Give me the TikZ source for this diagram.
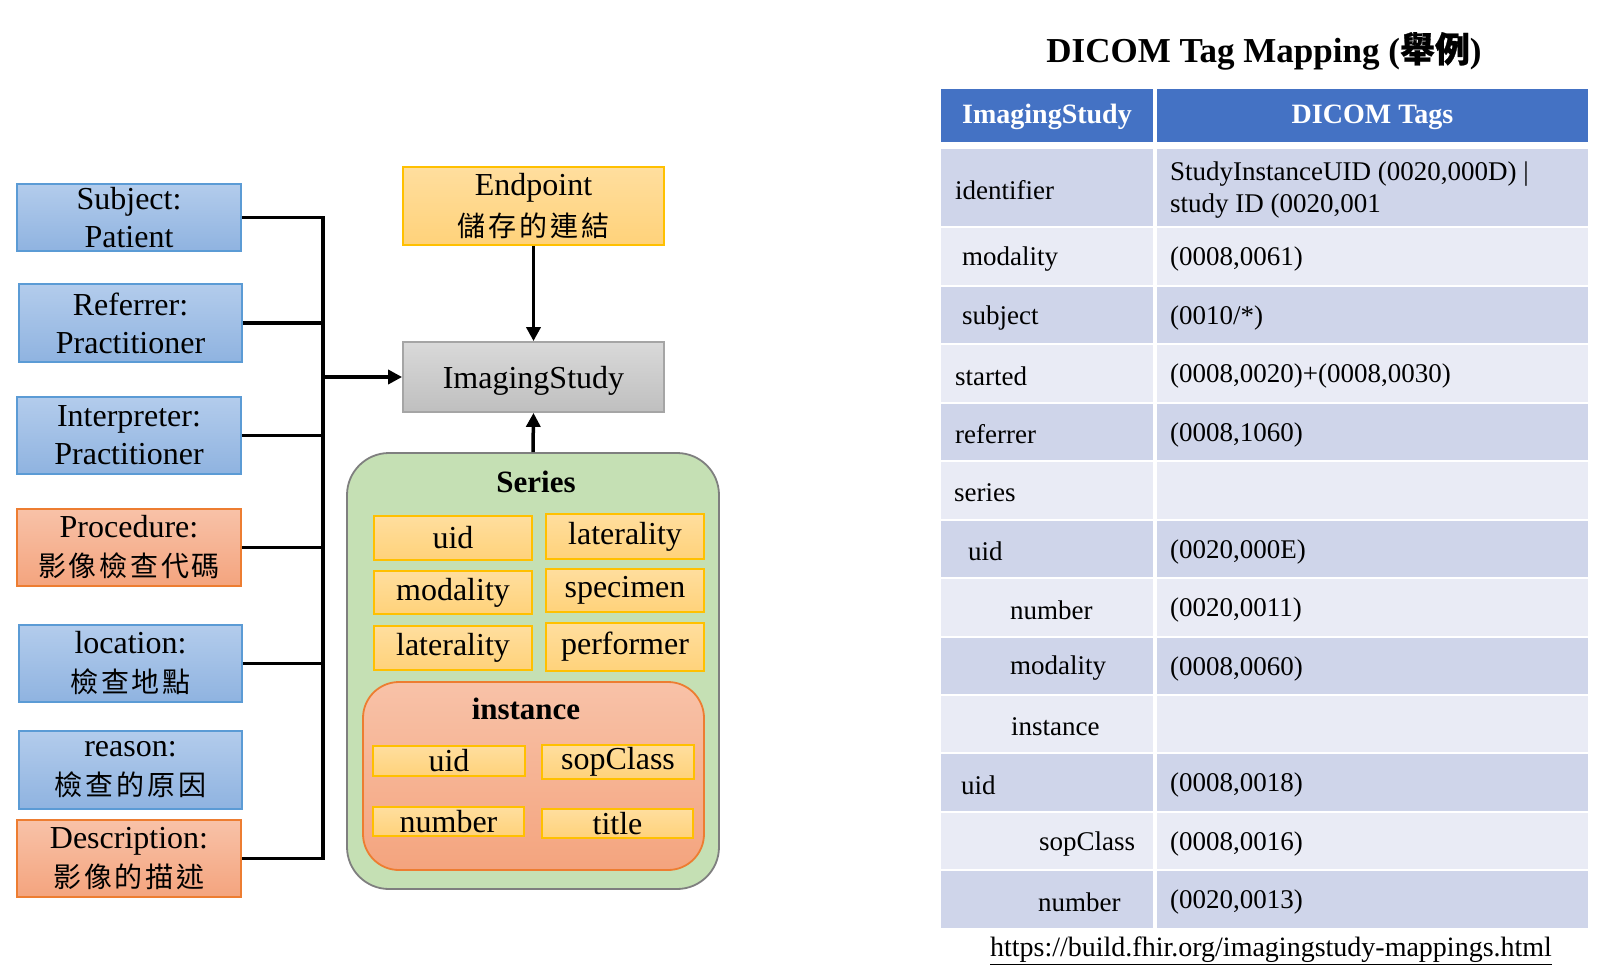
\documentclass[tikz,border=0pt]{standalone}
\usepackage{fontspec}
\setmainfont{Liberation Serif}
\newfontfamily\cjk[LetterSpace=10]{Noto Sans CJK TC}
\newfontfamily\cjkb[FakeBold=0.8]{Noto Sans CJK TC}
\usetikzlibrary{arrows.meta}
\definecolor{bluetop}{HTML}{B3CCEC}
\definecolor{bluebot}{HTML}{8FB3E0}
\definecolor{blueline}{HTML}{5B9BD5}
\definecolor{ortop}{HTML}{F8C2A8}
\definecolor{orbot}{HTML}{F4A47E}
\definecolor{orline}{HTML}{ED7D31}
\definecolor{yltop}{HTML}{FFDE9E}
\definecolor{ylbot}{HTML}{FFD27A}
\definecolor{ylline}{HTML}{FFC000}
\definecolor{grtop}{HTML}{D9D9D9}
\definecolor{grbot}{HTML}{BFBFBF}
\definecolor{grline}{HTML}{A5A5A5}
\definecolor{green}{HTML}{C5E0B4}
\definecolor{greenline}{HTML}{7F7F7F}
\definecolor{hdrblue}{HTML}{4472C4}
\definecolor{rowdark}{HTML}{CFD5EA}
\definecolor{rowlight}{HTML}{E9EBF5}
\newcommand\trow[7]{%
  \node[cellbg, fill=#4, minimum width=212, minimum height=#3] (#1L) at (1047,#2) {};
  \node[cellbg, fill=#4, minimum width=431, minimum height=#3] (#1R) at (1372.5,#2) {};
  \node[celltext, anchor=west] (#1Lt) at ([yshift=-2.5pt]#1L.west -| #5,0) {#6};
  \node[celltext, anchor=west] (#1Rt) at ([yshift=-2.5pt]#1R.west -| 1170,0) {#7};
}
\begin{document}
\begin{tikzpicture}[x=1pt,y=-1pt,
  box/.style={draw, line width=1.8pt, minimum width=224, minimum height=77, align=center, inner sep=0, font=\fontsize{32}{38}\selectfont},
  bluebox/.style={box, draw=blueline, top color=bluetop, bottom color=bluebot},
  orangebox/.style={box, draw=orline, top color=ortop, bottom color=orbot},
  ylbox/.style={draw=ylline, line width=1.8pt, top color=yltop, bottom color=ylbot, inner sep=0, minimum width=158, minimum height=44, font=\fontsize{32}{38}\selectfont},
  conn/.style={line width=3.5pt},
  arr/.style={conn, -{Triangle[length=14pt,width=14pt]}},
  cellbg/.style={rectangle, draw=none, inner sep=0},
  celltext/.style={inner sep=0, align=left, font=\fontsize{27}{32}\selectfont},
  hdrtext/.style={inner sep=0, text=white, font=\fontsize{28}{32}\selectfont\bfseries}
]
\useasboundingbox (0,0) rectangle (1607,978);

% left boxes
\node[bluebox, minimum height=67] (subj) at (129,217.5) {Subject:\\Patient};
\node[bluebox, minimum width=223, minimum height=78] (refr) at (130.5,323) {Referrer:\\Practitioner};
\node[bluebox] (intp) at (129,435.5) {Interpreter:\\Practitioner};
\node[orangebox] (proc) at (129,547.5) {Procedure:\\[1pt]{\cjk\fontsize{28}{38}\selectfont 影像檢查代碼}};
\node[bluebox, minimum width=223] (loc) at (130.5,663.5) {location:\\[1pt]{\cjk\fontsize{28}{38}\selectfont 檢查地點}};
\node[bluebox, minimum width=223, minimum height=78] (reas) at (130.5,770) {reason:\\[1pt]{\cjk\fontsize{28}{38}\selectfont 檢查的原因}};
\node[orangebox] (desc) at (129,858.5) {Description:\\[1pt]{\cjk\fontsize{28}{38}\selectfont 影像的描述}};

% center
\node[box, draw=ylline, top color=yltop, bottom color=ylbot, minimum width=261, minimum height=78] (ep) at (533.5,206) {Endpoint\\[3pt]{\cjk\fontsize{28}{38}\selectfont 儲存的連結}};
\node[box, draw=grline, top color=grtop, bottom color=grbot, minimum width=261, minimum height=70, text height=30, text depth=7] (is) at (533.5,377) {ImagingStudy};

\node[draw=greenline, line width=1.8pt, fill=green, rounded corners=42, minimum width=372, minimum height=436, inner sep=0] (series) at (533,671) {};
\node[inner sep=0, font=\fontsize{31}{36}\selectfont\bfseries] (serieslbl) at (536,482) {Series};
\node[ylbox] (suid) at (453,538) {uid};
\node[ylbox, minimum height=45] (slat) at (625,536.5) {laterality};
\node[ylbox, minimum height=43] (smod) at (453,592.5) {modality};
\node[ylbox, minimum height=43] (sspec) at (625,590.5) {specimen};
\node[ylbox] (slat2) at (453,648) {laterality};
\node[ylbox, minimum height=48] (sperf) at (625,647) {performer};

\node[draw=orline, line width=1.8pt, top color=ortop, bottom color=orbot, rounded corners=36, minimum width=341, minimum height=188, inner sep=0] (inst) at (533.5,776) {};
\node[inner sep=0, font=\fontsize{31}{36}\selectfont\bfseries] (instlbl) at (526,709) {instance};
\node[ylbox, minimum width=152, minimum height=30] (iuid) at (449,761) {uid};
\node[ylbox, minimum width=152, minimum height=34] (isop) at (618,762) {sopClass};
\node[ylbox, minimum width=151, minimum height=29] (inum) at (448.5,821.5) {number};
\node[ylbox, minimum width=151, minimum height=29] (ititle) at (617.5,823.5) {title};

% connectors
\coordinate (busx) at (323,0);
\draw[conn] (subj.east) -- (subj.east -| busx) -- (desc.east -| busx) -- (desc.east);
\draw[conn] (refr.east) -- (refr.east -| busx);
\draw[conn] (intp.east) -- (intp.east -| busx);
\draw[conn] (proc.east) -- (proc.east -| busx);
\draw[conn] (loc.east) -- (loc.east -| busx);
\draw[arr] (is.west -| busx) -- (is.west);
\draw[arr] (ep.south) -- (is.north);
\draw[arr] (series.north) -- (is.south);

% table
\node[inner sep=0, font=\fontsize{35}{40}\selectfont\bfseries] (title) at (1264,51) {DICOM Tag Mapping ({\cjkb 舉例})};
\node[cellbg, fill=hdrblue, minimum width=212, minimum height=53] (hL) at (1047,115.5) {};
\node[cellbg, fill=hdrblue, minimum width=431, minimum height=53] (hR) at (1372.5,115.5) {};
\node[hdrtext] (hLt) at ([yshift=-1.5pt]hL.center) {ImagingStudy};
\node[hdrtext] (hRt) at ([yshift=-1.5pt]hR.center) {DICOM Tags};
\trow{r1}{187.5}{77}{rowdark}{955}{identifier}{StudyInstanceUID (0020,000D) |\\study ID (0020,001}
\trow{r2}{256.5}{57}{rowlight}{962}{modality}{(0008,0061)}
\trow{r3}{315}{56}{rowdark}{962}{subject}{(0010/*)}
\trow{r4}{373.5}{57}{rowlight}{955}{started}{(0008,0020)+(0008,0030)}
\trow{r5}{432}{56}{rowdark}{955}{referrer}{(0008,1060)}
\trow{r6}{490.5}{57}{rowlight}{954}{series}{}
\trow{r7}{549}{56}{rowdark}{968}{uid}{(0020,000E)}
\trow{r8}{607.5}{57}{rowlight}{1010}{number}{(0020,0011)}
\trow{r9}{666}{56}{rowdark}{1010}{modality}{(0008,0060)}
\trow{r10}{724}{56}{rowlight}{1011}{instance}{}
\trow{r11}{782.5}{57}{rowdark}{961}{uid}{(0008,0018)}
\trow{r12}{841}{56}{rowlight}{1039}{sopClass}{(0008,0016)}
\trow{r13}{899.5}{57}{rowdark}{1038}{number}{(0020,0013)}
\node[inner sep=0, font=\fontsize{28}{32}\selectfont] (url) at (1271,951) {\underline{https://build.fhir.org/imagingstudy-mappings.html}};
\end{tikzpicture}
\end{document}
